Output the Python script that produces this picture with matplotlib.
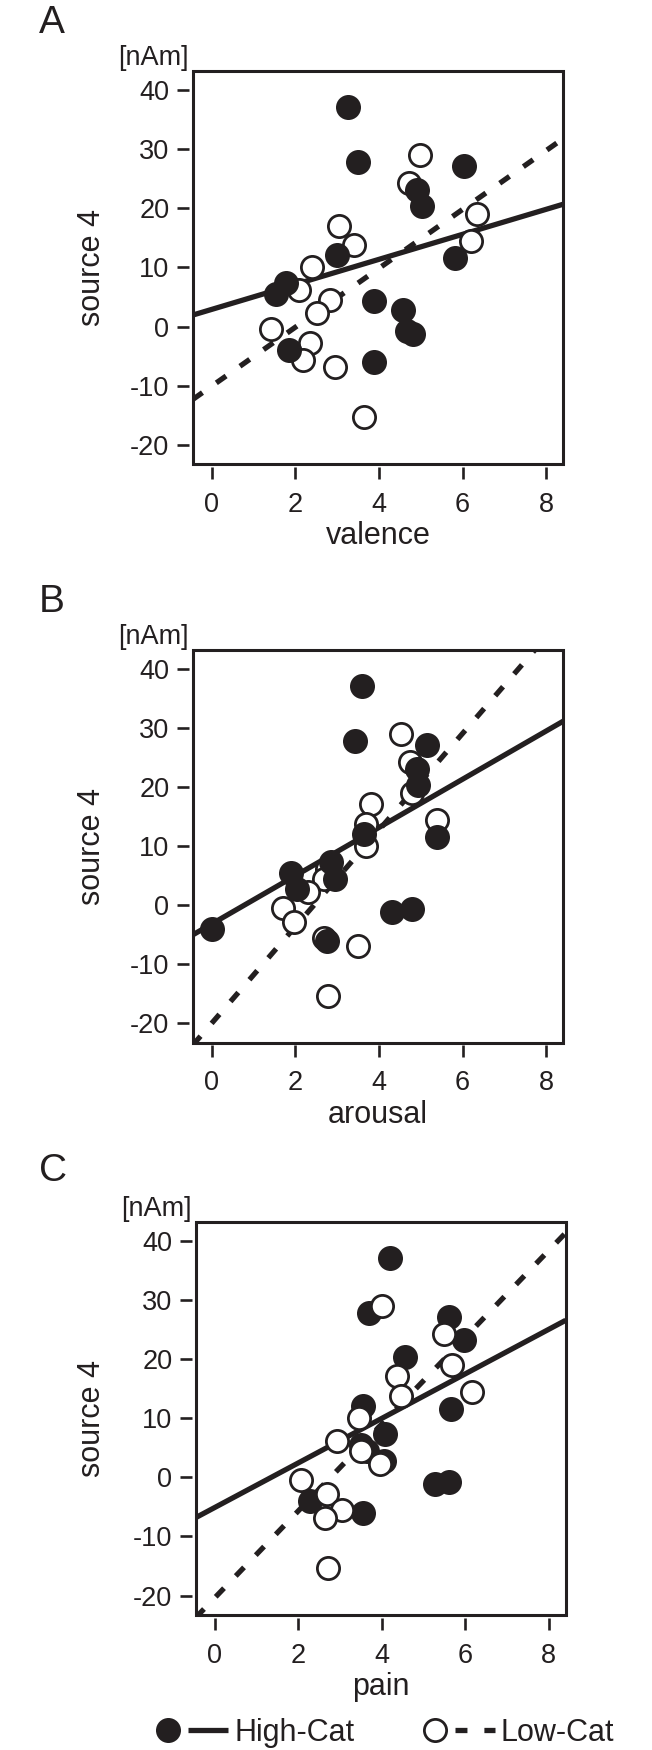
import numpy as np
import matplotlib
matplotlib.use("Agg")
import matplotlib.pyplot as plt
from matplotlib.patches import Rectangle
from matplotlib.lines import Line2D
from matplotlib.legend_handler import HandlerTuple

plt.rcParams["font.family"] = ["Liberation Sans", "DejaVu Sans"]
plt.rcParams["lines.scale_dashes"] = False
plt.rcParams["axes.unicode_minus"] = False

INK = "#231f20"

# source 4 amplitude per subject [nAm], same subjects in every panel
hi_source4 = [37.2, 27.9, 27.2, 23.2, 20.4, 12.1, 11.6, 7.4, 5.5, 4.4, 2.8, -0.7, -1.2, -4.0, -6.0]
lo_source4 = [29.0, 24.3, 19.1, 17.1, 13.8, 14.5, 10.1, 6.2, 4.5, 2.3, -0.5, -2.8, -5.6, -6.9, -15.4]

# ratings of the High-Cat group
hi_valence = [3.27, 3.49, 6.03, 4.91, 5.03, 2.99, 5.83, 1.77, 1.54, 3.88, 4.58, 4.66, 4.81, 1.84, 3.88]
hi_arousal = [3.59, 3.43, 5.16, 4.91, 4.94, 3.64, 5.39, 2.86, 1.90, 2.96, 2.03, 4.79, 4.31, 0.00, 2.76]
hi_pain = [4.19, 3.70, 5.61, 5.98, 4.57, 3.55, 5.66, 4.07, 3.50, 3.65, 4.05, 5.61, 5.29, 2.29, 3.55]

# ratings of the Low-Cat group
lo_valence = [4.98, 4.71, 6.34, 3.04, 3.40, 6.20, 2.39, 2.09, 2.84, 2.52, 1.42, 2.34, 2.19, 2.94, 3.64]
lo_arousal = [4.52, 4.74, 4.79, 3.81, 3.69, 5.39, 3.69, 2.75, 2.68, 2.31, 1.70, 1.97, 2.69, 3.49, 2.79]
lo_pain = [4.00, 5.49, 5.69, 4.37, 4.47, 6.16, 3.45, 2.93, 3.50, 3.95, 2.06, 2.70, 3.05, 2.65, 2.72]

# regression lines (slope, intercept) for valence, arousal, pain
hi_fit = [(2.12, 2.9), (4.09, -3.16), (3.77, -5.1)]
lo_fit = [(4.99, -10.1), (8.19, -20.0), (7.35, -20.4)]

panel_letters = ["A", "B", "C"]
x_names = ["valence", "arousal", "pain"]
x_ticks = [0, 2, 4, 6, 8]
y_ticks = [-20, -10, 0, 10, 20, 30, 40]

hi_x = [hi_valence, hi_arousal, hi_pain]
lo_x = [lo_valence, lo_arousal, lo_pain]

W, H = 652, 1750
fig = plt.figure(figsize=(W / 100, H / 100), dpi=100)

# axes frames in pixels: left, top, right, bottom
frames = [(192.7, 71, 563.3, 464), (192.7, 650, 563.3, 1042.7), (195.7, 1221.7, 565.7, 1615)]
letter_base = [33, 612, 1181]
open_on_top = [False, False, True]

dash = (0, (8.6, 12.2))
ms = 16
mew = 2

for i in range(3):
    l, t, r, b = frames[i]
    ax = fig.add_axes([l / W, 1 - b / H, (r - l) / W, (b - t) / H])
    ax.set_xlim(-0.455, 8.41)
    ax.set_ylim(-23.3, 43.3)

    xs = np.array(ax.get_xlim())
    ax.plot(xs, hi_fit[i][0] * xs + hi_fit[i][1], color=INK, lw=3.8, solid_capstyle="butt", zorder=2)
    ax.plot(xs, lo_fit[i][0] * xs + lo_fit[i][1], color=INK, lw=3.8, ls=dash, zorder=2)

    zf, zo = (4, 3) if not open_on_top[i] else (3, 4)
    ax.plot(hi_x[i], hi_source4, "o", ms=ms, mfc=INK, mec=INK, mew=mew, zorder=zf)
    ax.plot(lo_x[i], lo_source4, "o", ms=ms, mfc="white", mec=INK, mew=mew, zorder=zo)

    for s in ax.spines.values():
        s.set_visible(False)
    ax.spines["left"].set_position(("outward", 2.4))
    ax.spines["bottom"].set_position(("outward", 2.0))
    ax.add_patch(Rectangle((0, 0), 1, 1, transform=ax.transAxes, fill=False,
                           ec=INK, lw=2.2, clip_on=False, zorder=5))

    ax.set_xticks(x_ticks)
    ax.set_yticks(y_ticks)
    ax.tick_params(axis="y", length=8.4, width=1.9, pad=6, labelsize=19.5, colors=INK)
    ax.tick_params(axis="x", length=8.9, width=1.9, pad=9, labelsize=19.5, colors=INK)

    ax.set_xlabel(x_names[i], fontsize=22, color=INK)
    ax.xaxis.set_label_coords(0.5, -72 / (b - t))
    ax.xaxis.label.set_va("center")
    ax.set_ylabel("source 4", fontsize=22, color=INK)
    ax.yaxis.set_label_coords(-(l - 92) / (r - l), 0.5)
    ax.yaxis.label.set_va("center")

    ax.annotate("[nAm]", xy=(0, 1), xycoords="axes fraction", xytext=(-3, 4),
                textcoords="offset points", ha="right", va="baseline", fontsize=19.5, color=INK)

    fig.text(39 / W, 1 - letter_base[i] / H, panel_letters[i], fontsize=28, color=INK,
             ha="left", va="baseline")

hi_dot = Line2D([], [], ls="none", marker="o", ms=ms, mfc=INK, mec=INK, mew=mew)
hi_line = Line2D([], [], color=INK, lw=3.8, solid_capstyle="butt")
lo_dot = Line2D([], [], ls="none", marker="o", ms=ms, mfc="white", mec=INK, mew=mew)
lo_line = Line2D([], [], color=INK, lw=3.8, ls=dash)

fig.legend([(hi_dot, hi_line), (lo_dot, lo_line)], ["High-Cat", "Low-Cat"],
           handler_map={tuple: HandlerTuple(ndivide=None, pad=0)},
           loc="center", bbox_to_anchor=(0.585, 0.0097), ncol=2, frameon=False,
           fontsize=22, handlelength=2.6, handletextpad=0.2, columnspacing=2.0,
           borderpad=0, borderaxespad=0, labelcolor=INK)

fig.savefig("out.png", dpi=100)
